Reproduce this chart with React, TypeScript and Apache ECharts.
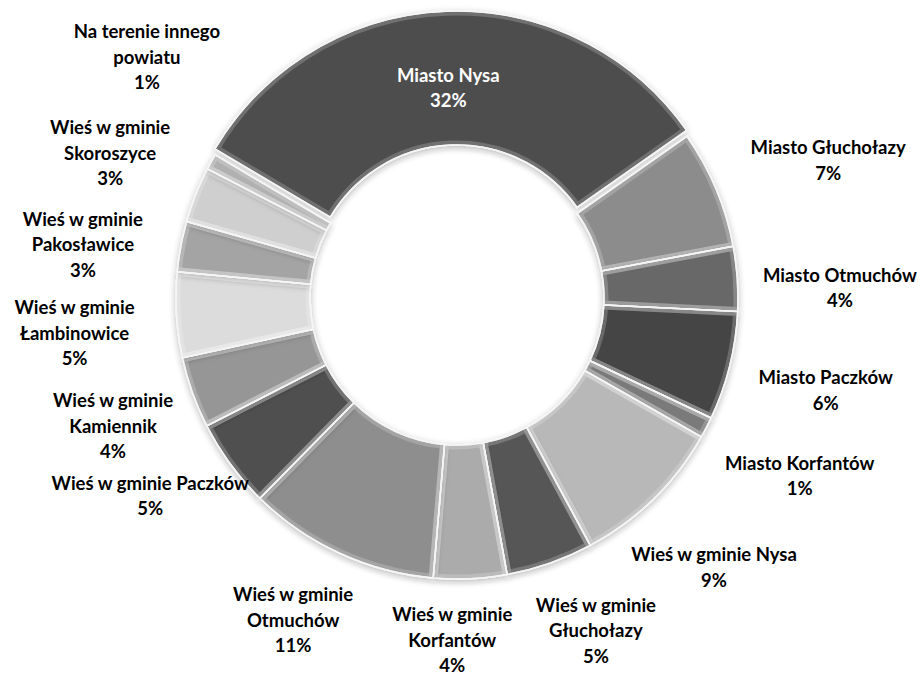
import React, { useEffect, useRef } from "react";
import * as echarts from "echarts";

const categories = [
  "Miasto Nysa",
  "Miasto Głuchołazy",
  "Miasto Otmuchów",
  "Miasto Paczków",
  "Miasto Korfantów",
  "Wieś w gminie Nysa",
  "Wieś w gminie\nGłuchołazy",
  "Wieś w gminie\nKorfantów",
  "Wieś w gminie\nOtmuchów",
  "Wieś w gminie Paczków",
  "Wieś w gminie\nKamiennik",
  "Wieś w gminie\nŁambinowice",
  "Wieś w gminie\nPakosławice",
  "Wieś w gminie\nSkoroszyce",
  "Na terenie innego\npowiatu",
];

const values = [31.7, 6.8, 3.7, 6.25, 1.2, 8.9, 5.0, 4.2, 11.0, 5.1, 4.1, 4.9, 2.9, 3.2, 0.9];

const colors = [
  "#4d4d4d",
  "#8c8c8c",
  "#676767",
  "#444444",
  "#7a7a7a",
  "#b8b8b8",
  "#565656",
  "#ababab",
  "#8e8e8e",
  "#4f4f4f",
  "#969696",
  "#dcdcdc",
  "#a4a4a4",
  "#cfcfcf",
  "#b0b0b0",
];

// layout: outside label placement as [angle clockwise from 12 o'clock (deg), distance from centre (px)]
const LABEL_POLAR: [number, number][] = [
  [0, 0],
  [69.6, 396],
  [88.4, 383],
  [104.0, 380],
  [117.4, 386],
  [136.3, 372],
  [157.3, 360],
  [180.8, 342],
  [207.0, 361],
  [237.2, 365],
  [249.6, 367],
  [264.8, 384],
  [278.2, 378],
  [292.7, 376],
  [307.9, 393],
];

const CX = 457;
const CY = 298;
const R_IN = 147;
const R_OUT = 281;
const START = 149.4;
const OFFSET = 6;

export default function App() {
  const ref = useRef<HTMLDivElement>(null);

  useEffect(() => {
    if (!ref.current) return;
    const chart = echarts.init(ref.current, undefined, { renderer: "svg" });

    const mainData = categories.map((name, i) => ({
      name,
      value: values[i],
      selected: i === 0,
      itemStyle: { color: colors[i] },
      label:
        i === 0
          ? {
              position: "inside",
              color: "#ffffff",
              formatter: "\n{b}\n{d}%",
              lineHeight: 24.5,
            }
          : undefined,
    }));

    const overlayData = categories.map((name, i) => ({
      name,
      value: values[i],
      selected: i === 0,
    }));

    const common = {
      type: "pie",
      center: [CX, CY],
      radius: [R_IN, R_OUT],
      startAngle: START,
      clockwise: true,
      selectedMode: "single",
      selectedOffset: OFFSET,
      emphasis: { disabled: true },
    };

    chart.setOption({
      animation: false,
      backgroundColor: "#ffffff",
      series: [
        {
          ...common,
          avoidLabelOverlap: false,
          percentPrecision: 0,
          itemStyle: {
            borderColor: "#f4f4f4",
            borderWidth: 1.5,
            shadowBlur: 6,
            shadowColor: "rgba(0,0,0,0.35)",
            shadowOffsetY: 2,
          },
          label: {
            show: true,
            position: "outside",
            formatter: "{b}\n{d}%",
            fontFamily: "Lato",
            fontWeight: "bold",
            fontSize: 18.5,
            lineHeight: 25.5,
            color: "#000000",
            width: 260,
            distanceToLabelLine: 0,
          },
          labelLine: { show: false, length: 20, length2: 0 },
          labelLayout: (p: any) => {
            if (p.dataIndex === 0) return {};
            const [a, r] = LABEL_POLAR[p.dataIndex];
            const rad = (a * Math.PI) / 180;
            return {
              x: CX + r * Math.sin(rad),
              y: CY - r * Math.cos(rad),
              align: "center",
              verticalAlign: "middle",
            };
          },
          data: mainData,
        },
        {
          ...common,
          silent: true,
          label: { show: false },
          labelLine: { show: false },
          itemStyle: {
            color: "rgba(0,0,0,0)",
            borderColor: "rgba(255,255,255,0.2)",
            borderWidth: 9,
          },
          data: overlayData,
        },
        {
          ...common,
          silent: true,
          label: { show: false },
          labelLine: { show: false },
          itemStyle: {
            color: "rgba(0,0,0,0)",
            borderColor: "rgba(245,245,245,0.9)",
            borderWidth: 1.5,
          },
          data: overlayData,
        },
      ],
    });

    return () => chart.dispose();
  }, []);

  return (
    <div
      ref={ref}
      style={{ position: "fixed", left: 0, top: 0, width: 924, height: 673 }}
    />
  );
}
